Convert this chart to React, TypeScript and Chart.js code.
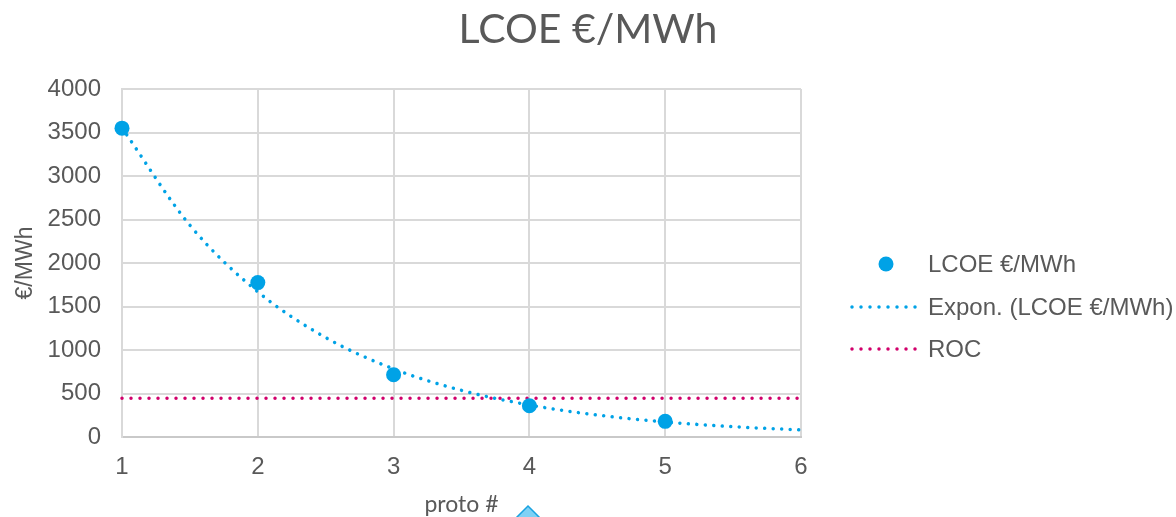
import React, { useEffect, useRef } from "react";
import { Chart, registerables } from "chart.js";

Chart.register(...registerables);

const chartTitle = "LCOE €/MWh";
const xTitle = "proto #";
const yTitle = "€/MWh";

const lcoeX = [1, 2, 3, 4, 5];
const lcoeY = [3550, 1775, 715, 360, 180];

const trendX = [1, 1.5, 2, 2.5, 3, 3.5, 4, 4.5, 5, 5.5, 6];
const trendY = [3553, 2434, 1669, 1143, 783, 536, 368, 252, 173, 118, 81];

const rocX = [1, 6];
const rocY = [445, 445];

const legendLabels = ["LCOE €/MWh", "Expon. (LCOE €/MWh)", "ROC"];

const BLUE = "#00a2e6";
const PINK = "#d1006b";
const TEXT = "#595959";
const SANS = "Arial, 'Liberation Sans', sans-serif";

const overlay = {
  id: "overlay",
  afterDraw(chart: any) {
    const ctx = chart.ctx;
    const area = chart.chartArea;
    ctx.save();
    // title
    ctx.fillStyle = TEXT;
    ctx.font = "41px Lato";
    ctx.textAlign = "center";
    ctx.textBaseline = "alphabetic";
    ctx.fillText(chartTitle, 588, 43);
    // x title
    ctx.font = "23px Lato";
    ctx.fillText(xTitle, (area.left + area.right) / 2, 512);
    // y title
    ctx.save();
    ctx.translate(32, (area.top + area.bottom) / 2);
    ctx.rotate(-Math.PI / 2);
    ctx.font = "23px " + SANS;
    ctx.textAlign = "center";
    ctx.fillText(yTitle, 0, 0);
    ctx.restore();

    // legend
    ctx.font = "24px " + SANS;
    ctx.textAlign = "left";
    ctx.textBaseline = "middle";
    const ys = [264, 307, 349];
    ctx.fillStyle = BLUE;
    ctx.beginPath();
    ctx.arc(886, ys[0], 7.5, 0, Math.PI * 2);
    ctx.fill();
    ctx.lineCap = "round";
    ctx.lineWidth = 3.5;
    ctx.setLineDash([0.001, 9]);
    ctx.strokeStyle = BLUE;
    ctx.beginPath();
    ctx.moveTo(852, ys[1]);
    ctx.lineTo(916, ys[1]);
    ctx.stroke();
    ctx.strokeStyle = PINK;
    ctx.beginPath();
    ctx.moveTo(852, ys[2]);
    ctx.lineTo(918, ys[2]);
    ctx.stroke();
    ctx.setLineDash([]);
    ctx.fillStyle = TEXT;
    legendLabels.forEach((l, i) => ctx.fillText(l, 928, ys[i] + 1));

    // small triangle shape at the bottom
    ctx.beginPath();
    ctx.moveTo(528, 506);
    ctx.lineTo(541, 519);
    ctx.lineTo(515, 519);
    ctx.closePath();
    ctx.fillStyle = "#7fd1f5";
    ctx.fill();
    ctx.strokeStyle = "#1aa3e0";
    ctx.lineWidth = 1.5;
    ctx.stroke();
    ctx.restore();
  },
};

export default function App() {
  const ref = useRef<HTMLCanvasElement>(null);
  useEffect(() => {
    if (!ref.current) return;
    const chart = new Chart(ref.current, {
      type: "line",
      data: {
        datasets: [
          {
            label: legendLabels[0],
            data: lcoeX.map((x, i) => ({ x, y: lcoeY[i] })),
            showLine: false,
            pointRadius: 7.5,
            pointBackgroundColor: BLUE,
            pointBorderColor: BLUE,
            pointBorderWidth: 0,
            clip: false,
          },
          {
            label: legendLabels[1],
            data: trendX.map((x, i) => ({ x, y: trendY[i] })),
            borderColor: BLUE,
            borderWidth: 3.5,
            borderDash: [0.001, 8.5],
            borderCapStyle: "round",
            pointRadius: 0,
            cubicInterpolationMode: "monotone",
            clip: false,
          },
          {
            label: legendLabels[2],
            data: rocX.map((x, i) => ({ x, y: rocY[i] })),
            borderColor: PINK,
            borderWidth: 3.5,
            borderDash: [0.001, 9],
            borderCapStyle: "round",
            pointRadius: 0,
            clip: false,
          },
        ],
      },
      options: {
        responsive: false,
        animation: false,
        layout: { padding: { left: 0, top: 89, right: 375, bottom: 0 } },
        plugins: {
          legend: { display: false },
          title: { display: false },
          tooltip: { enabled: false },
        },
        scales: {
          x: {
            type: "linear",
            min: 1,
            max: 6,
            afterFit: (s: any) => {
              s.height = 80;
            },
            ticks: {
              stepSize: 1,
              color: TEXT,
              font: { family: SANS, size: 24 },
              padding: 16,
              callback: (v: any) => String(v),
            },
            grid: { color: "#d9d9d9", lineWidth: 2, drawTicks: false },
            border: { color: "#c9c9c9", width: 2 },
          },
          y: {
            min: 0,
            max: 4000,
            afterFit: (s: any) => {
              s.width = 122;
            },
            ticks: {
              stepSize: 500,
              color: TEXT,
              font: { family: SANS, size: 24 },
              padding: 21,
              callback: (v: any) => String(v),
            },
            grid: { color: "#d9d9d9", lineWidth: 2, drawTicks: false },
            border: { color: "#d9d9d9", width: 2 },
          },
        },
      },
      plugins: [overlay],
    } as any);
    return () => chart.destroy();
  }, []);
  return (
    <div style={{ position: "absolute", left: 0, top: 0, width: 1176, height: 517, background: "#fff" }}>
      <canvas ref={ref} width={1176} height={517} />
    </div>
  );
}
